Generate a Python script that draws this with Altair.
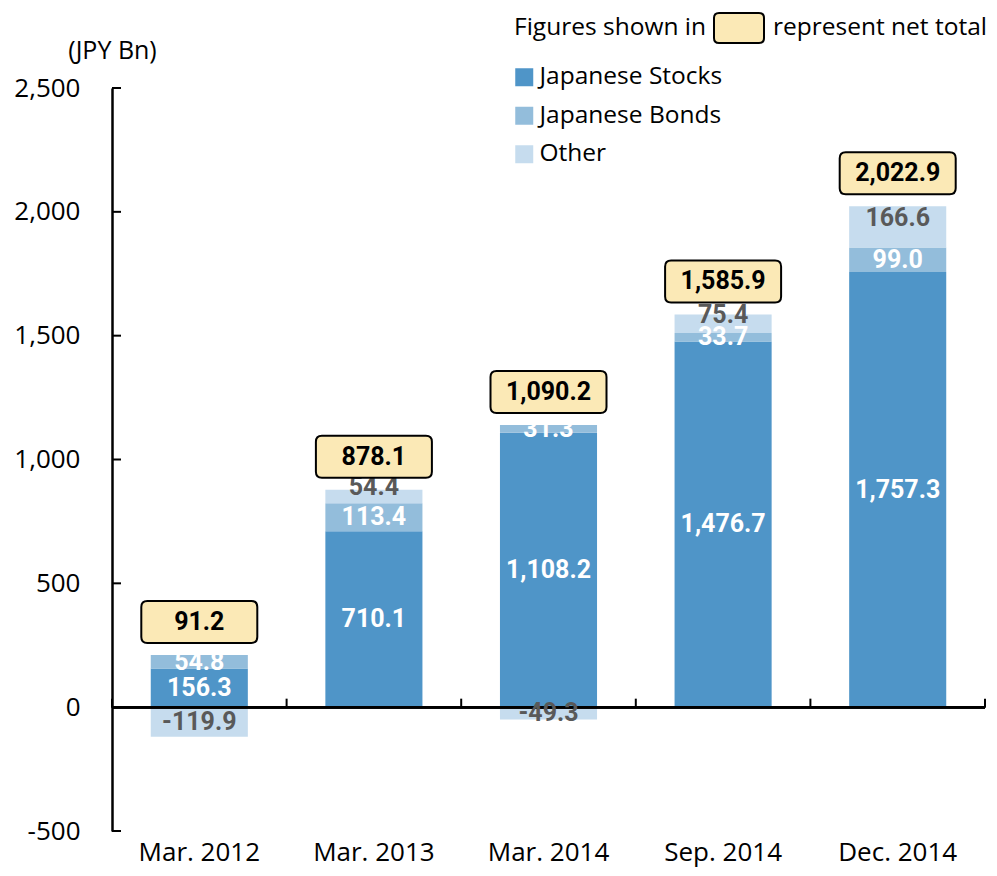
import altair as alt
import pandas as pd

categories = ["Mar. 2012", "Mar. 2013", "Mar. 2014", "Sep. 2014", "Dec. 2014"]
stocks = [156.3, 710.1, 1108.2, 1476.7, 1757.3]
bonds = [54.8, 113.4, 31.3, 33.7, 99.0]
other = [-119.9, 54.4, -49.3, 75.4, 166.6]
totals = [91.2, 878.1, 1090.2, 1585.9, 2022.9]
series_names = ["Japanese Stocks", "Japanese Bonds", "Other"]
series_colors = ["#4f95c8", "#93bddb", "#c6dcee"]
label_colors = ["#ffffff", "#ffffff", "#595959"]
y_ticks = [-500, 0, 500, 1000, 1500, 2000, 2500]

rows = []
tops = []
for i, c in enumerate(categories):
    pos, neg = 0.0, 0.0
    for k, (name, val) in enumerate(zip(series_names, [stocks[i], bonds[i], other[i]])):
        if val >= 0:
            y0, y1 = pos, pos + val
            pos = y1
        else:
            y0, y1 = neg, neg + val
            neg = y1
        rows.append(dict(cat=c, series=name, value=val, y0=y0, y1=y1,
                         mid=(y0 + y1) / 2, lc=label_colors[k], k=k,
                         lifted=(k == 2 and val > 0)))
    tops.append(dict(cat=c, total=totals[i], top=pos))
df = pd.DataFrame(rows)
tdf = pd.DataFrame(tops)
tick_df = pd.DataFrame(dict(v=y_ticks))
cat_df = pd.DataFrame(dict(cat=categories))
last_df = pd.DataFrame(dict(cat=categories[-1:]))

W, H = 873, 743
FONT = "Open Sans"
VFONT = "Roboto"
MINUS_FIX = "replace(format(datum.value, ',.1f'), '\u2212', '-')"

xs = alt.Scale(domain=categories, paddingInner=0, paddingOuter=0)
ys = alt.Scale(domain=[-500, 2500], nice=False, zero=False)

xaxis = alt.Axis(domain=False, ticks=False, labelFont=FONT, labelFontSize=26,
                 labelColor="black", labelPadding=29, labelBaseline="alphabetic",
                 labelAngle=0, title=None)
yaxis = alt.Axis(values=y_ticks, format=",.0f", labelFont=FONT, labelFontSize=26,
                 labelColor="black", labelPadding=32, ticks=False,
                 labelExpr="replace(datum.label, '\u2212', '-')",
                 domainColor="black", domainWidth=2.5, grid=False,
                 title="(JPY Bn)", titleAngle=0, titleX=0, titleY=-38,
                 titleAlign="center", titleBaseline="middle", titleFont=FONT,
                 titleFontSize=25, titleFontWeight="normal", titleColor="black")


def X(**kw):
    return alt.X("cat:N", scale=xs, sort=categories, axis=xaxis, **kw)


def Y(field):
    return alt.Y(field, scale=ys, axis=yaxis)


bars = alt.Chart(df).mark_bar(width=alt.RelativeBandSize(0.556)).encode(
    x=X(),
    y=Y("y0:Q"),
    y2="y1:Q",
    color=alt.Color("series:N",
                    scale=alt.Scale(domain=series_names, range=series_colors),
                    legend=alt.Legend(orient="none", legendX=400, legendY=-23, title=None,
                                      symbolType="square", symbolSize=324, symbolStrokeWidth=0,
                                      symbolOpacity=1, labelFont=FONT, labelFontSize=24.5,
                                      labelColor="black", labelOffset=3, rowPadding=13.5,
                                      labelLimit=0, padding=0)),
)

zero_line = alt.Chart(cat_df).mark_rule(color="black", strokeWidth=2.5).encode(
    y=alt.Y(datum=0, scale=ys, axis=yaxis), x=alt.value(0), x2=alt.value(W))

zero_ticks = alt.Chart(cat_df).mark_tick(orient="vertical", size=9, thickness=2,
                                         color="black", yOffset=-4, opacity=1).encode(
    x=X(bandPosition=0),
    y=alt.Y(datum=0, scale=ys, axis=yaxis))
zero_tick_end = alt.Chart(last_df).mark_tick(orient="vertical", size=9, thickness=2,
                                             color="black", yOffset=-4, opacity=1).encode(
    x=X(bandPosition=1),
    y=alt.Y(datum=0, scale=ys, axis=yaxis))

y_inticks = alt.Chart(tick_df).mark_rule(color="black", strokeWidth=2).encode(
    y=Y("v:Q"), x=alt.value(0), x2=alt.value(9))

labels = alt.Chart(df).transform_filter("!datum.lifted").transform_calculate(
    lbl=MINUS_FIX).mark_text(font=VFONT, fontWeight="bold", fontSize=25,
                             baseline="middle", align="center").encode(
    x=X(),
    y=Y("mid:Q"),
    text="lbl:N",
    color=alt.Color("lc:N", scale=None),
)
labels_lifted = alt.Chart(df).transform_filter("datum.lifted").transform_calculate(
    lbl=MINUS_FIX).mark_text(font=VFONT, fontWeight="bold", fontSize=25,
                             baseline="middle", align="center", yOffset=-9).encode(
    x=X(),
    y=Y("mid:Q"),
    text="lbl:N",
    color=alt.Color("lc:N", scale=None),
)

BOX = ("M-52,-21 H52 Q58,-21 58,-15 V15 Q58,21 52,21 H-52 Q-58,21 -58,15 "
       "V-15 Q-58,-21 -52,-21 Z")
SMALLBOX = ("M-20,-15 H20 Q25,-15 25,-10 V10 Q25,15 20,15 H-20 Q-25,15 -25,10 "
            "V-10 Q-25,-15 -20,-15 Z")

boxes = alt.Chart(tdf).mark_point(shape=BOX, size=4, filled=True, fill="#fbe9b6",
                                  stroke="black", strokeWidth=2, opacity=1, fillOpacity=1,
                                  yOffset=-33).encode(
    x=X(), y=Y("top:Q"))

box_text = alt.Chart(tdf).transform_calculate(
    lbl="format(datum.total, ',.1f')").mark_text(
    font=VFONT, fontWeight="bold", fontSize=25, color="black", baseline="middle",
    align="center", yOffset=-33).encode(
    x=X(), y=Y("top:Q"), text="lbl:N")

note_df = pd.DataFrame(dict(t=["Figures shown in"]))
note1 = alt.Chart(note_df).mark_text(font=FONT, fontSize=24.5, color="black", align="left",
                                     baseline="alphabetic").encode(
    x=alt.value(402), y=alt.value(-53), text="t:N")
note_df2 = pd.DataFrame(dict(t=["represent net total"]))
note2 = alt.Chart(note_df2).mark_text(font=FONT, fontSize=24.5, color="black", align="left",
                                      baseline="alphabetic").encode(
    x=alt.value(661), y=alt.value(-53), text="t:N")
note_box = alt.Chart(note_df).mark_point(shape=SMALLBOX, size=4, filled=True, fill="#fbe9b6",
                                         stroke="black", strokeWidth=2, opacity=1,
                                         fillOpacity=1).encode(
    x=alt.value(627), y=alt.value(-60))

chart = alt.layer(bars, zero_line, zero_ticks, zero_tick_end, y_inticks, labels,
                  labels_lifted, boxes, box_text, note_box, note1, note2).properties(
    width=W, height=H,
    autosize=alt.AutoSizeParams(type="none"),
    padding={"left": 104, "top": 80, "right": 4, "bottom": 37},
    background="white",
).configure_view(stroke=None)

chart.save("out.html", embed_options={"renderer": "svg", "actions": False})
